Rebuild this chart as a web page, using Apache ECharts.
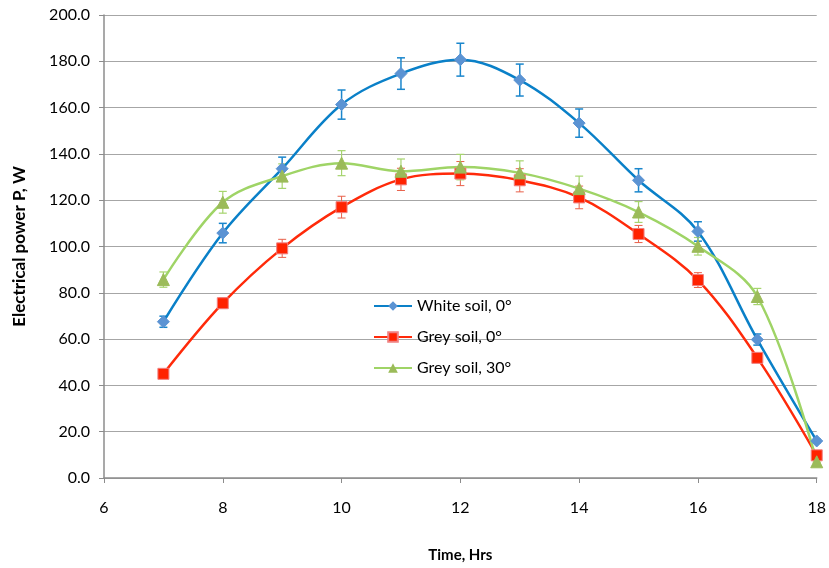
<!DOCTYPE html>
<html><head><meta charset="utf-8">
<script src="https://cdn.jsdelivr.net/npm/echarts@6/dist/echarts.min.js"></script>
<style>html,body{margin:0;padding:0;background:#fff}#c{width:829px;height:568px}</style>
</head><body><div id="c"></div>
<script>
var hours = [7, 8, 9, 10, 11, 12, 13, 14, 15, 16, 17, 18];
var whiteSoil0 = [67.5, 105.8, 133.6, 161.3, 174.7, 180.7, 171.9, 153.3, 128.6, 106.5, 59.8, 16.0];
var whiteSoil0Err = [2.4, 4.2, 5.0, 6.3, 6.8, 7.1, 6.9, 6.1, 5.0, 4.2, 2.4, 0.8];
var greySoil0 = [45.0, 75.5, 99.2, 117.0, 129.0, 131.5, 128.6, 121.2, 105.4, 85.5, 51.9, 9.8];
var greySoil0Err = [1.3, 2.3, 3.9, 4.7, 4.8, 5.2, 5.0, 4.9, 3.7, 3.2, 1.5, 0.5];
var greySoil30 = [85.7, 119.1, 130.4, 136.0, 132.5, 134.3, 131.8, 125.0, 114.9, 100.1, 78.4, 7.0];
var greySoil30Err = [3.3, 4.7, 5.3, 5.4, 5.3, 5.5, 5.2, 5.4, 4.5, 3.8, 3.5, 0.4];
var seriesNames = ['White soil, 0°', 'Grey soil, 0°', 'Grey soil, 30°'];

var FONT = 'Lato';
function pts(vals){ return hours.map(function(h,i){ return [h, vals[i]]; }); }
function errData(vals, errs){ return hours.map(function(h,i){ return [h, vals[i]-errs[i], vals[i]+errs[i]]; }); }
function errSeries(vals, errs, color, lw){
  return {
    type: 'custom', silent: true, z: 1,
    data: errData(vals, errs),
    encode: {x: 0, y: [1, 2]},
    renderItem: function(params, api){
      var x = api.value(0);
      var lo = api.coord([x, api.value(1)]);
      var hi = api.coord([x, api.value(2)]);
      var w = 4;
      var st = {stroke: color, lineWidth: lw};
      return {type: 'group', children: [
        {type: 'line', shape: {x1: lo[0], y1: lo[1], x2: hi[0], y2: hi[1]}, style: st},
        {type: 'line', shape: {x1: lo[0]-w, y1: lo[1], x2: lo[0]+w, y2: lo[1]}, style: st},
        {type: 'line', shape: {x1: hi[0]-w, y1: hi[1], x2: hi[0]+w, y2: hi[1]}, style: st}
      ]};
    }
  };
}

var chart = echarts.init(document.getElementById('c'), null, {renderer: 'canvas'});
chart.setOption({
  animation: false,
  backgroundColor: '#ffffff',
  textStyle: {fontFamily: FONT},
  grid: {left: 104, right: 12, top: 15, bottom: 79, containLabel: false},
  legend: {
    left: 373, top: 298, orient: 'vertical', itemGap: 15, padding: 0,
    itemWidth: 38, itemHeight: 12,
    textStyle: {fontFamily: FONT, fontSize: 16, color: '#000'},
    data: seriesNames
  },
  xAxis: {
    type: 'value', min: 6, max: 18, interval: 2,
    name: 'Time, Hrs', nameLocation: 'middle', nameGap: 70,
    nameTextStyle: {fontFamily: FONT, fontSize: 15, fontWeight: 'bold', color: '#000'},
    axisLine: {lineStyle: {color: '#8c8c8c', width: 1.5}},
    axisTick: {show: true, length: 5, lineStyle: {color: '#8c8c8c'}},
    axisLabel: {fontFamily: FONT, fontSize: 16, color: '#000', margin: 22},
    splitLine: {show: false}
  },
  yAxis: {
    type: 'value', min: 0, max: 200, interval: 20,
    name: 'Electrical power P, W', nameLocation: 'middle', nameGap: 76,
    nameTextStyle: {fontFamily: FONT, fontSize: 17, fontWeight: 'bold', color: '#000'},
    axisLine: {show: true, lineStyle: {color: '#8c8c8c', width: 1.5}},
    axisTick: {show: true, length: 5, lineStyle: {color: '#8c8c8c'}},
    axisLabel: {fontFamily: FONT, fontSize: 16, color: '#000', margin: 14,
      formatter: function(v){ return v.toFixed(1); }},
    splitLine: {show: true, lineStyle: {color: '#a6a6a6', width: 1.2}}
  },
  series: [
    errSeries(whiteSoil0, whiteSoil0Err, '#1a86cc', 1.5),
    errSeries(greySoil0, greySoil0Err, '#e8604a', 1),
    errSeries(greySoil30, greySoil30Err, '#a6d46e', 1.2),
    {name: seriesNames[0], type: 'line', data: pts(whiteSoil0), smooth: 0.35, z: 3,
      symbol: 'diamond', symbolSize: 12,
      lineStyle: {color: '#0a80c8', width: 2.5},
      itemStyle: {color: '#5b93d3', borderColor: '#5b93d3'}},
    {name: seriesNames[1], type: 'line', data: pts(greySoil0), smooth: 0.35, z: 3,
      symbol: 'rect', symbolSize: 11,
      lineStyle: {color: '#ff2a0a', width: 2.5},
      itemStyle: {color: '#ff2200', borderColor: '#f08080', borderWidth: 1}},
    {name: seriesNames[2], type: 'line', data: pts(greySoil30), smooth: 0.35, z: 3,
      symbol: 'triangle', symbolSize: 12,
      lineStyle: {color: '#9fd466', width: 2.5},
      itemStyle: {color: '#9bbb59', borderColor: '#9bbb59'}}
  ]
});
</script></body></html>
